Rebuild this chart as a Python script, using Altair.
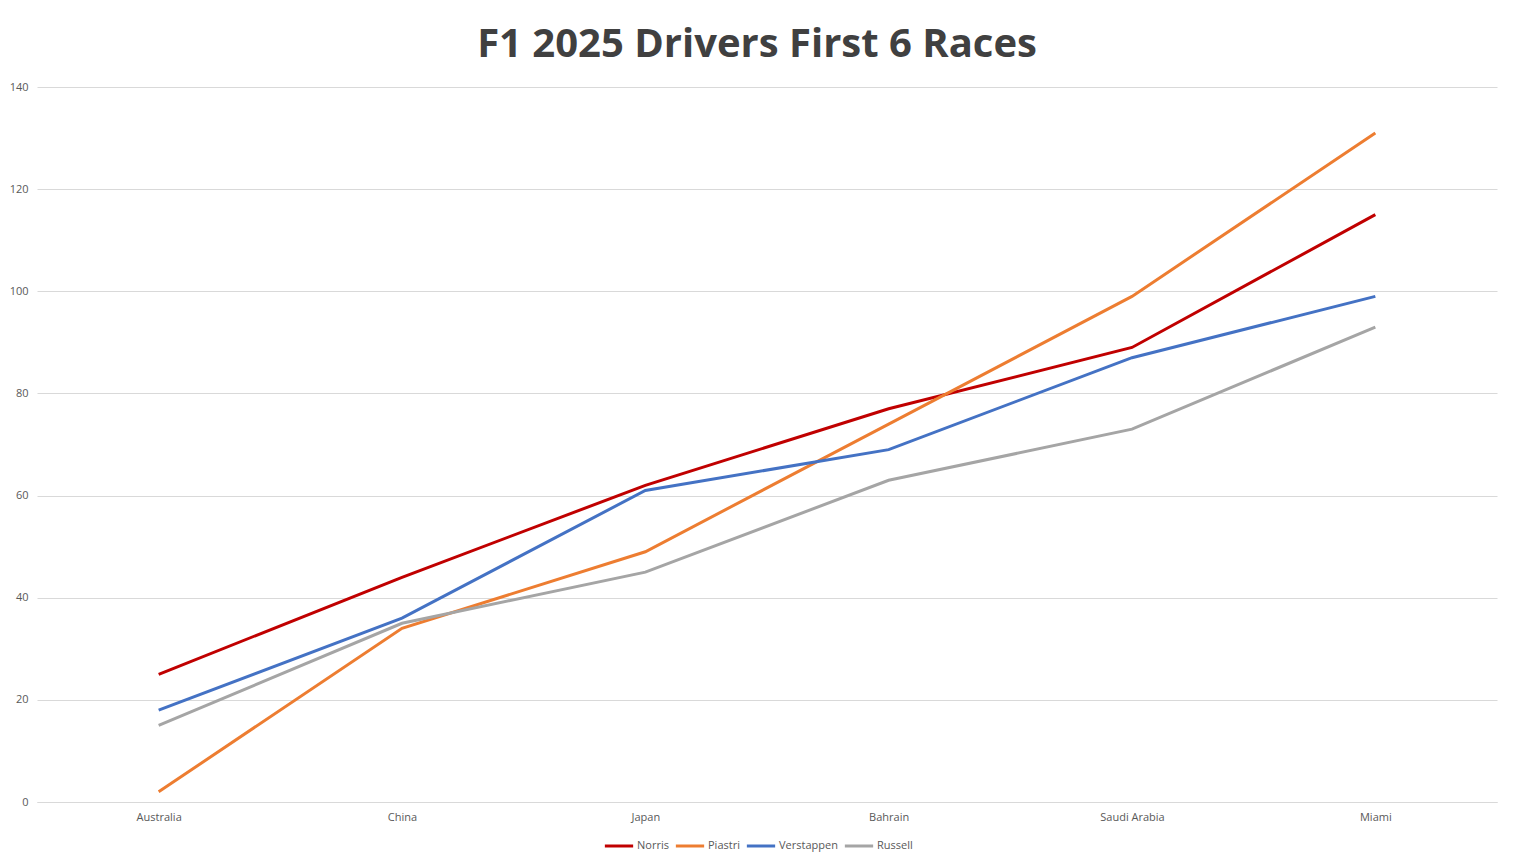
import altair as alt
import pandas as pd

races = ["Australia", "China", "Japan", "Bahrain", "Saudi Arabia", "Miami"]
drivers = ["Norris", "Piastri", "Verstappen", "Russell"]
norris = [25, 44, 62, 77, 89, 115]
piastri = [2, 34, 49, 74, 99, 131]
verstappen = [18, 36, 61, 69, 87, 99]
russell = [15, 35, 45, 63, 73, 93]
colors = ["#C00000", "#ED7D31", "#4472C4", "#A5A5A5"]

rows = []
for d, vals in zip(drivers, [norris, piastri, verstappen, russell]):
    for i, (r, v) in enumerate(zip(races, vals)):
        rows.append({"Race": r, "Driver": d, "Points": v, "order": drivers.index(d)})
df = pd.DataFrame(rows)

font = "Open Sans"

chart = alt.Chart(df).mark_line(strokeWidth=3).encode(
    x=alt.X("Race:N", sort=races, title=None,
            scale=alt.Scale(type="point", padding=0.5),
            axis=alt.Axis(labelAngle=0, ticks=False, grid=False, domain=True,
                          domainColor="#D9D9D9", labelColor="#595959",
                          labelFontSize=11, labelPadding=9, labelFont=font)),
    y=alt.Y("Points:Q", title=None,
            scale=alt.Scale(domain=[0, 140]),
            axis=alt.Axis(values=[0, 20, 40, 60, 80, 100, 120, 140], ticks=False,
                          domain=False, gridColor="#D9D9D9", labelColor="#595959",
                          labelFontSize=11, labelPadding=9, labelFont=font)),
    color=alt.Color("Driver:N", sort=drivers,
                    scale=alt.Scale(domain=drivers, range=colors),
                    legend=alt.Legend(title=None, orient="none", direction="horizontal",
                                      legendX=566, legendY=743, symbolType="stroke",
                                      symbolSize=800, symbolStrokeWidth=3,
                                      labelFontSize=11, labelColor="#595959",
                                      labelFont=font, columnPadding=0, labelOffset=2)),
    detail="Driver:N",
).properties(
    width=1460,
    height=715,
    padding={"left": 29, "top": 79, "right": 8, "bottom": 60},
    autosize=alt.AutoSizeParams(type="none"),
    title=alt.TitleParams("F1 2025 Drivers First 6 Races", fontSize=40,
                          font=font, fontWeight="bold", color="#404040",
                          anchor="middle", offset=16, dx=-10),
).configure_view(stroke=None)

chart.save("out.html", embed_options={"renderer": "svg", "actions": False})
